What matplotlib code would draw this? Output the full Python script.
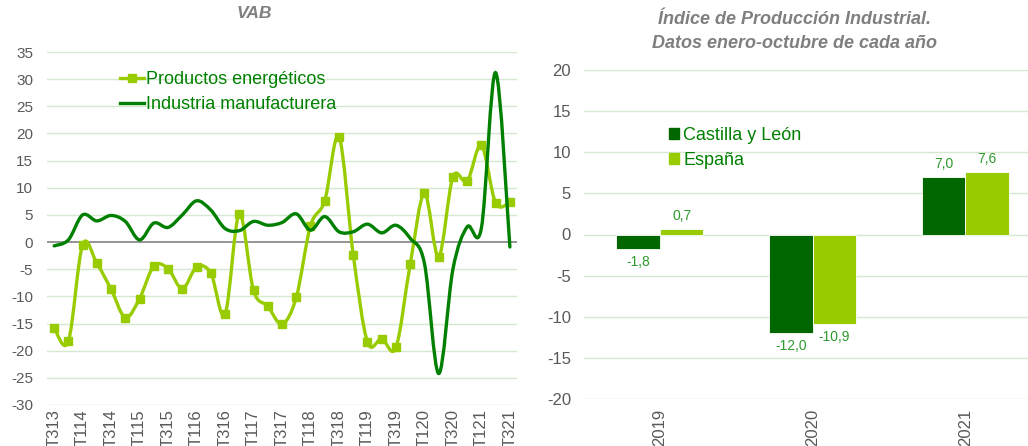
import numpy as np
import matplotlib
matplotlib.use('Agg')
import matplotlib.pyplot as plt
from matplotlib.path import Path
from matplotlib.patches import PathPatch
from matplotlib.lines import Line2D
from matplotlib.patches import Patch

plt.rcParams['font.family'] = ['Liberation Sans', 'DejaVu Sans']
plt.rcParams['axes.unicode_minus'] = False

# VAB trimestral (tasas de variación)
quarters = ['T313', 'T413',
            'T114', 'T214', 'T314', 'T414',
            'T115', 'T215', 'T315', 'T415',
            'T116', 'T216', 'T316', 'T416',
            'T117', 'T217', 'T317', 'T417',
            'T118', 'T218', 'T318', 'T418',
            'T119', 'T219', 'T319', 'T419',
            'T120', 'T220', 'T320', 'T420',
            'T121', 'T221', 'T321']
energeticos = [-15.8, -18.3, -0.5, -3.9, -8.7, -13.9, -10.4, -4.4, -4.9, -8.6,
               -4.6, -5.7, -13.3, 5.2, -8.9, -11.8, -15.1, -10.2, 3.0, 7.6,
               19.4, -2.3, -18.4, -17.8, -19.4, -4.1, 9.0, -2.7, 12.0, 11.2,
               17.8, 7.2, 7.3]
manufacturera = [-0.7, 0.4, 5.0, 3.9, 4.9, 3.8, 0.4, 3.5, 2.7, 5.0,
                 7.6, 5.9, 2.5, 2.1, 3.8, 3.1, 3.6, 5.2, 2.2, 4.7,
                 1.9, 1.9, 3.3, 1.7, 3.1, 0.7, -3.9, -24.2, -5.0, 2.8,
                 2.6, 31.2, -0.9]

# Índice de Producción Industrial
years = ['2019', '2020', '2021']
cyl = [-1.8, -12.0, 7.0]
espana = [0.7, -10.9, 7.6]

DARK = '#008000'
BAR_DARK = '#006600'
LIGHT = '#99CC00'
GRID = '#D5E8D0'
TICK = '#595959'
TITLE = '#7F7F7F'
LABEL = '#2E9A2E'


def smooth_path(xs, ys):
    """Bezier path like Excel's smoothed line."""
    pts = np.column_stack([xs, ys]).astype(float)
    n = len(pts)
    verts = [pts[0]]
    codes = [Path.MOVETO]
    for i in range(n - 1):
        p0 = pts[i - 1] if i > 0 else pts[i]
        p1 = pts[i]
        p2 = pts[i + 1]
        p3 = pts[i + 2] if i + 2 < n else pts[i + 1]
        c1 = p1 + (p2 - p0) / 6.0
        c2 = p2 - (p3 - p1) / 6.0
        verts += [c1, c2, p2]
        codes += [Path.CURVE4] * 3
    return Path(verts, codes)


fig = plt.figure(figsize=(10.28, 4.46), dpi=100)

# ---- left chart: VAB ----
ax1 = fig.add_axes([47 / 1028, 41 / 446, 470 / 1028, 353 / 446])
x = np.arange(len(quarters))
ax1.set_xlim(-0.5, len(quarters) - 0.5)
ax1.set_ylim(-30, 35)
ax1.set_yticks(np.arange(-30, 36, 5))
for v in np.arange(-30, 36, 5):
    if v != 0:
        ax1.axhline(v, color=GRID, lw=1.0, zorder=0)
ax1.axhline(0, color='#8C8C8C', lw=1.3, zorder=1)

ax1.add_patch(PathPatch(smooth_path(x, energeticos), fill=False,
                        edgecolor=LIGHT, lw=2.4, zorder=3, capstyle='round'))
ax1.plot(x, energeticos, ls='none', marker='s', ms=5.5, color=LIGHT, zorder=4)
ax1.add_patch(PathPatch(smooth_path(x, manufacturera), fill=False,
                        edgecolor=DARK, lw=2.4, zorder=5, capstyle='round'))

ax1.set_xticks(x[::2])
ax1.set_xticklabels(quarters[::2], rotation=90, fontsize=12, color=TICK)
ax1.tick_params(axis='y', length=0, labelsize=11, colors=TICK, pad=10)
ax1.tick_params(axis='x', length=0, colors=TICK, pad=3)
for s in ax1.spines.values():
    s.set_visible(False)
fig.text(254 / 1028, 1 - 13 / 446, 'VAB', ha='center', va='center',
         fontsize=12.5, fontweight='bold', fontstyle='italic', color=TITLE)

h1 = [Line2D([], [], color=LIGHT, lw=2.4, marker='s', ms=5.5),
      Line2D([], [], color=DARK, lw=2.4)]
leg1 = fig.legend(h1, ['Productos energéticos', 'Industria manufacturera'],
                  loc='center left', bbox_to_anchor=(120 / 1028, 1 - 92 / 446),
                  bbox_transform=fig.transFigure, frameon=False, fontsize=13,
                  handlelength=1.35, handletextpad=0.1, labelspacing=0.45,
                  borderpad=0, borderaxespad=0)
for t in leg1.get_texts():
    t.set_color(DARK)

# ---- right chart: IPI ----
ax2 = fig.add_axes([583.6 / 1028, 47 / 446, 458 / 1028, 329 / 446])
xb = np.arange(len(years))
w = 0.285
ax2.set_xlim(-0.5, len(years) - 0.5)
ax2.set_ylim(-20, 20)
ax2.set_yticks(np.arange(-20, 21, 5))
for v in np.arange(-20, 21, 5):
    ax2.axhline(v, color=GRID, lw=1.0, zorder=0)
b1 = ax2.bar(xb - w / 2, cyl, w, color=BAR_DARK, edgecolor='white', lw=0.6, zorder=2)
b2 = ax2.bar(xb + w / 2, espana, w, color=LIGHT, edgecolor='white', lw=0.6, zorder=2)
for bars, vals in ((b1, cyl), (b2, espana)):
    for r, v in zip(bars, vals):
        off = 9 if v >= 0 else -9
        ax2.annotate(f'{v:.1f}'.replace('.', ','),
                     (r.get_x() + r.get_width() / 2, v),
                     xytext=(0, off), textcoords='offset points',
                     ha='center', va='center', fontsize=10, color=LABEL)
ax2.set_xticks(xb)
ax2.set_xticklabels(years, rotation=90, fontsize=12, color=TICK)
ax2.tick_params(axis='y', length=0, labelsize=12, colors=TICK, pad=9)
ax2.tick_params(axis='x', length=0, colors=TICK, pad=7)
for s in ax2.spines.values():
    s.set_visible(False)
fig.text(795 / 1028, 1 - 20 / 446, 'Índice de Producción Industrial.',
         ha='center', va='center', fontsize=13, fontweight='bold',
         fontstyle='italic', color=TITLE)
fig.text(795 / 1028, 1 - 43 / 446, 'Datos enero-octubre de cada año',
         ha='center', va='center', fontsize=13, fontweight='bold',
         fontstyle='italic', color=TITLE)

h2 = [Patch(color=BAR_DARK), Patch(color=LIGHT)]
leg2 = fig.legend(h2, ['Castilla y León', 'España'], loc='center left',
                  bbox_to_anchor=(669 / 1028, 1 - 148 / 446),
                  bbox_transform=fig.transFigure, frameon=False, fontsize=13,
                  handlelength=0.55, handleheight=0.55, handletextpad=0.25,
                  labelspacing=0.45, borderpad=0, borderaxespad=0)
for t in leg2.get_texts():
    t.set_color(DARK)

fig.savefig('out.png', dpi=100)
